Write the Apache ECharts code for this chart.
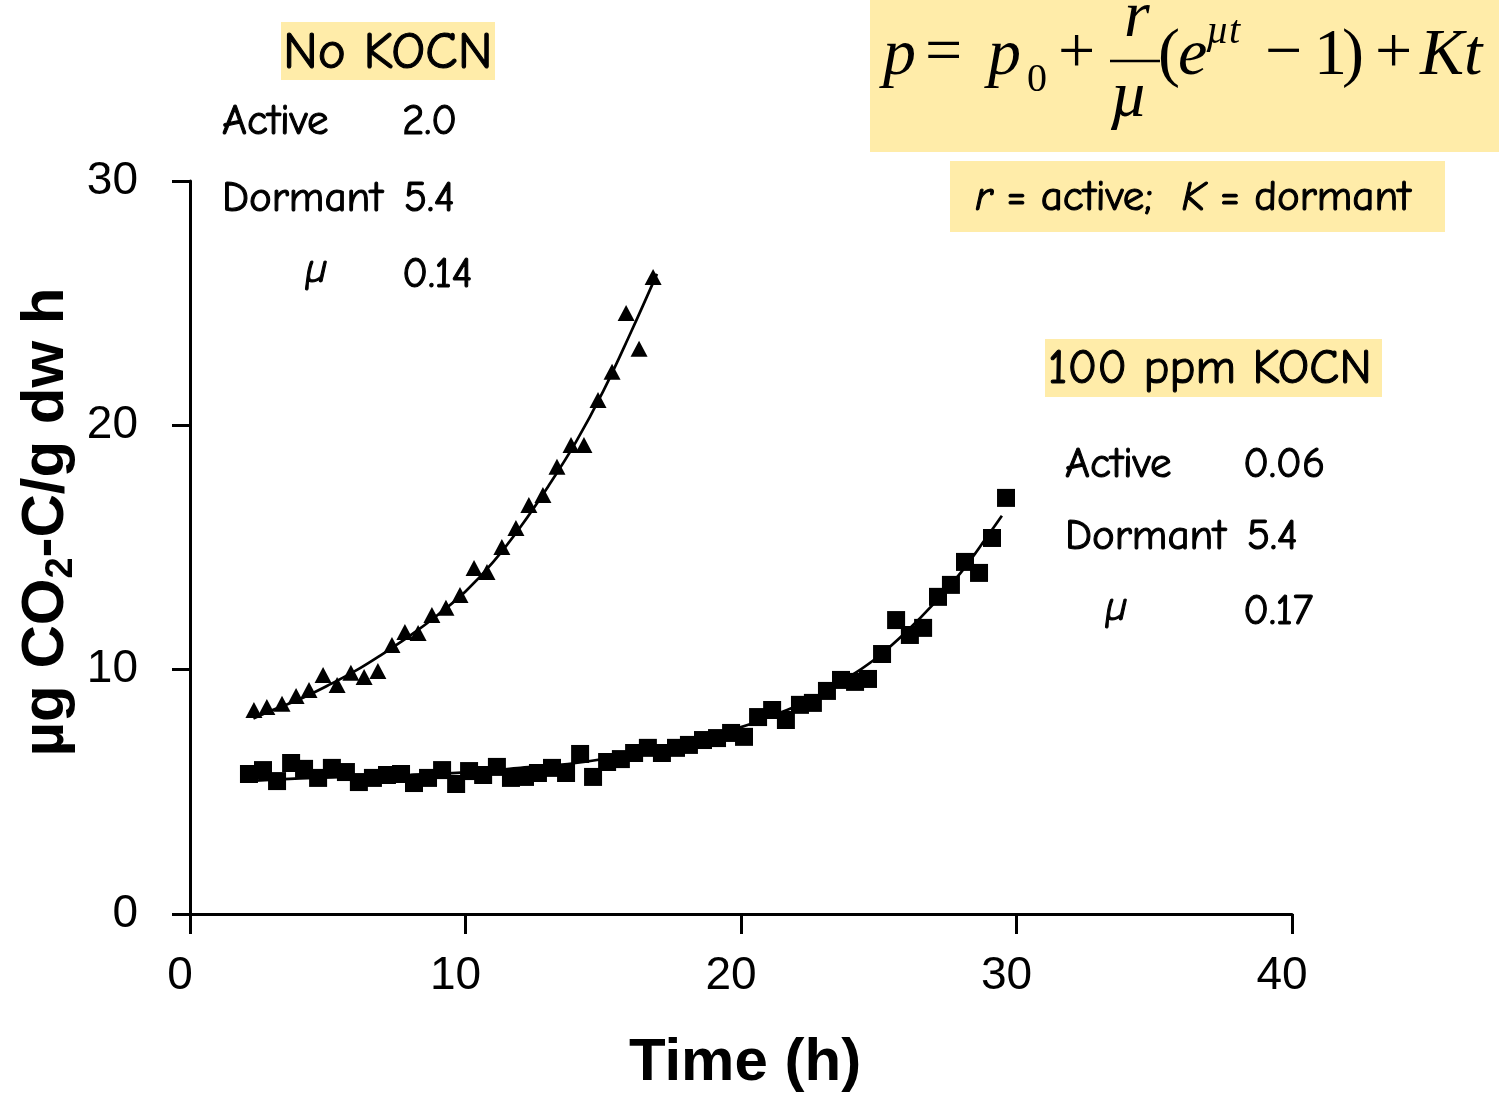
<!DOCTYPE html>
<html>
<head>
<meta charset="utf-8">
<title>CO2 evolution with and without KOCN</title>
<script src="https://cdn.jsdelivr.net/npm/echarts@6/dist/echarts.min.js"></script>
<style>
  html, body { margin: 0; padding: 0; background: #ffffff; }
  #chart { width: 1499px; height: 1095px; }
</style>
</head>
<body>
<div id="chart"></div>
<script>
// Respiration (µg CO2-C / g dw h) against time (h)

// No KOCN — measured points (triangles)
const noKocnTime = [2.32, 2.79, 3.34, 3.85, 4.32, 4.83, 5.34, 5.84, 6.32, 6.82, 7.33, 7.80, 8.28, 8.78, 9.29,
  9.80, 10.31, 10.78, 11.32, 11.83, 12.30, 12.81, 13.32, 13.83, 14.30, 14.81, 15.32, 15.83, 16.30, 16.81];
const noKocnRate = [8.35, 8.47, 8.60, 8.92, 9.17, 9.78, 9.37, 9.87, 9.70, 9.95, 11.01, 11.54, 11.50, 12.24, 12.53,
  13.06, 14.16, 14.00, 15.02, 15.80, 16.74, 17.15, 18.30, 19.20, 19.20, 21.04, 22.19, 24.60, 23.13, 26.07];

// No KOCN — fitted curve
const noKocnFitTime = [2.3, 3, 4, 5, 6, 7, 8, 9, 10, 11, 12, 13, 14, 15, 16, 16.95];
const noKocnFitRate = [8.0, 8.35, 8.8, 9.35, 9.95, 10.65, 11.4, 12.25, 13.2, 14.4, 15.85, 17.5, 19.3, 21.4, 23.8, 26.2];

// 100 ppm KOCN — measured points (squares)
const kocnTime = [2.14, 2.65, 3.16, 3.67, 4.14, 4.65, 5.15, 5.66, 6.13, 6.64, 7.15, 7.66, 8.13, 8.64, 9.15, 9.66,
  10.13, 10.64, 11.14, 11.65, 12.16, 12.63, 13.14, 13.65, 14.16, 14.63, 15.14, 15.64, 16.12, 16.62, 17.13, 17.64,
  18.11, 18.62, 19.13, 19.64, 20.11, 20.62, 21.13, 21.63, 22.14, 22.61, 23.12, 23.63, 24.14, 24.61, 25.12, 25.63,
  26.13, 26.61, 27.15, 27.62, 28.13, 28.64, 29.11, 29.62];
const kocnRate = [5.73, 5.89, 5.44, 6.18, 5.94, 5.57, 5.98, 5.81, 5.40, 5.57, 5.69, 5.73, 5.36, 5.57, 5.89, 5.32,
  5.85, 5.69, 6.02, 5.57, 5.61, 5.77, 5.98, 5.77, 6.55, 5.61, 6.22, 6.34, 6.59, 6.80, 6.59, 6.80,
  6.92, 7.12, 7.20, 7.41, 7.25, 8.06, 8.35, 7.94, 8.56, 8.64, 9.13, 9.58, 9.50, 9.62, 10.64, 12.03,
  11.42, 11.71, 12.98, 13.47, 14.41, 13.96, 15.39, 17.03];

// 100 ppm KOCN — fitted curve
const kocnFitTime = [2.2, 4, 6, 8, 10, 12, 14, 16, 18, 20, 21, 22, 23, 24, 25, 26, 27, 28, 29, 29.47];
const kocnFitRate = [5.45, 5.55, 5.62, 5.70, 5.80, 5.98, 6.18, 6.55, 7.05, 7.65, 8.06, 8.5, 9.05, 9.75, 10.55, 11.55, 12.7, 14.0, 15.55, 16.3];

// Axis ticks
const xTicks = [0, 10, 20, 30, 40];
const yTicks = [0, 10, 20, 30];

// Fitted parameters shown beside each curve
const noKocnParams = { active: '2.0', dormant: '5.4', mu: '0.14' };
const kocnParams = { active: '0.06', dormant: '5.4', mu: '0.17' };

const pairs = (xs, ys) => xs.map((x, i) => [x, ys[i]]);

const HAND = "'Comic Sans MS', 'Comic Neue', 'DejaVu Sans', sans-serif";
const SERIF = "'Times New Roman', 'Liberation Serif', serif";
const SANS = "Arial, 'Liberation Sans', sans-serif";
const BOX = '#FFECA9';

// handwriting-style label, slightly thickened with a thin outline
function txt(text, x, y, size, extra) {
  return Object.assign({
    type: 'text', x: x, y: y, z: 10,
    style: Object.assign({
      text: text, fontSize: size, fontFamily: HAND, fontWeight: 'normal', fill: '#000',
      stroke: '#000', lineWidth: 1.1,
      align: 'left', verticalAlign: 'middle'
    }, (extra && extra.style) || {})
  }, (extra && extra.el) || {});
}
function eq(text, x, y, size, italic) {
  return txt(text, x, y, size, { style: { fontFamily: SERIF, lineWidth: 0, stroke: null, fontStyle: italic ? 'italic' : 'normal' } });
}
function rect(x, y, w, h) {
  return { type: 'rect', z: 1, shape: { x: x, y: y, width: w, height: h }, style: { fill: BOX } };
}

const chart = echarts.init(document.getElementById('chart'), null, { renderer: 'canvas' });

const EQ = 66;     // equation body size
const EQS = 40;    // sub/superscript size
const ROW = 43;    // parameter rows

const option = {
  backgroundColor: '#ffffff',
  animation: false,
  grid: { left: 190, right: 207, top: 181, bottom: 181, containLabel: false },
  xAxis: {
    type: 'value', min: xTicks[0], max: xTicks[xTicks.length - 1], interval: 10,
    axisLine: { onZero: false, lineStyle: { color: '#000', width: 3 } },
    axisTick: { show: true, length: 20, lineStyle: { color: '#000', width: 3 } },
    axisLabel: { fontSize: 46, fontFamily: SANS, color: '#000', margin: 39, padding: [0, 20, 0, 0] },
    splitLine: { show: false }
  },
  yAxis: {
    type: 'value', min: yTicks[0], max: yTicks[yTicks.length - 1], interval: 10,
    axisLine: { show: true, onZero: false, lineStyle: { color: '#000', width: 3 } },
    axisTick: { show: true, length: 18, lineStyle: { color: '#000', width: 3 } },
    axisLabel: { fontSize: 46, fontFamily: SANS, color: '#000', margin: 52 },
    splitLine: { show: false }
  },
  series: [
    {
      name: 'No KOCN fit', type: 'line', smooth: 0.4, showSymbol: false, z: 2,
      lineStyle: { color: '#000', width: 2.7 },
      data: pairs(noKocnFitTime, noKocnFitRate)
    },
    {
      name: '100 ppm KOCN fit', type: 'line', smooth: 0.4, showSymbol: false, z: 2,
      lineStyle: { color: '#000', width: 2.7 },
      data: pairs(kocnFitTime, kocnFitRate)
    },
    {
      name: 'No KOCN', type: 'scatter', symbol: 'triangle', symbolSize: [17, 16], z: 3,
      itemStyle: { color: '#000', opacity: 1 },
      data: pairs(noKocnTime, noKocnRate)
    },
    {
      name: '100 ppm KOCN', type: 'scatter', symbol: 'rect', symbolSize: 18, z: 3,
      itemStyle: { color: '#000', opacity: 1 },
      data: pairs(kocnTime, kocnRate)
    }
  ],
  graphic: [
    // highlight boxes
    rect(281, 22, 214, 58),
    rect(870, 0, 629, 152),
    rect(950, 161, 495, 71),
    rect(1045, 339, 337, 58),

    // axis titles
    {
      type: 'text', x: 46, y: 522, rotation: Math.PI / 2, z: 10,
      style: {
        text: '{b|µg CO}{s|2}{b|-C/g dw h}', align: 'center', verticalAlign: 'middle',
        rich: {
          b: { fontSize: 60, fontWeight: 'bold', fontFamily: SANS, fill: '#000', lineHeight: 70 },
          s: { fontSize: 38, fontWeight: 'bold', fontFamily: SANS, fill: '#000', lineHeight: 38, verticalAlign: 'bottom' }
        }
      }
    },
    {
      type: 'text', x: 745, y: 1063, z: 10,
      style: { text: 'Time (h)', fontSize: 60, fontWeight: 'bold', fontFamily: SANS, fill: '#000', align: 'center', verticalAlign: 'middle' }
    },

    // No KOCN annotation
    txt('No KOCN', 283, 53, 53),
    txt('Active', 222, 122, ROW),
    txt(noKocnParams.active, 402, 122, ROW),
    txt('Dormant', 222, 199, ROW),
    txt(noKocnParams.dormant, 404, 199, ROW),
    txt('µ', 305, 270, ROW, { style: { fontStyle: 'italic' } }),
    txt(noKocnParams.mu, 402, 275, ROW),

    // 100 ppm KOCN annotation
    txt('100 ppm KOCN', 1048, 369, 49),
    txt('Active', 1065, 465, ROW),
    txt(kocnParams.active, 1243, 465, ROW),
    txt('Dormant', 1065, 537, ROW),
    txt(kocnParams.dormant, 1247, 537, ROW),
    txt('µ', 1105, 608, ROW, { style: { fontStyle: 'italic' } }),
    txt(kocnParams.mu, 1243, 612, ROW),

    // legend for the model terms
    {
      type: 'text', x: 975, y: 198, z: 10,
      style: {
        text: '{i|r} = active;  {i|K} = dormant', align: 'left', verticalAlign: 'middle',
        fontSize: 43, fontFamily: HAND, fill: '#000', stroke: '#000', lineWidth: 1.1,
        rich: { i: { fontSize: 43, fontFamily: HAND, fontStyle: 'italic', fill: '#000', stroke: '#000', lineWidth: 1.1 } }
      }
    },

    // model: p = p0 + r/µ (e^{µt} − 1) + Kt
    eq('p', 883, 57, EQ, true),
    eq('=', 925, 55, EQ, false),
    eq('p', 988, 57, EQ, true),
    eq('0', 1027, 80, EQS, false),
    eq('+', 1058, 55, EQ, false),
    eq('r', 1124, 19, EQ, true),
    { type: 'line', z: 10, shape: { x1: 1110, y1: 61, x2: 1160, y2: 61 }, style: { stroke: '#000', lineWidth: 2.5 } },
    eq('µ', 1110, 99, EQ, true),
    eq('(', 1158, 57, EQ, false),
    eq('e', 1178, 57, EQ, true),
    eq('µt', 1206, 32, EQS, true),
    eq('−', 1265, 55, EQ, false),
    eq('1', 1314, 57, EQ, false),
    eq(')', 1342, 57, EQ, false),
    eq('+', 1375, 55, EQ, false),
    eq('Kt', 1420, 57, EQ, true)
  ]
};

chart.setOption(option);
</script>
</body>
</html>
